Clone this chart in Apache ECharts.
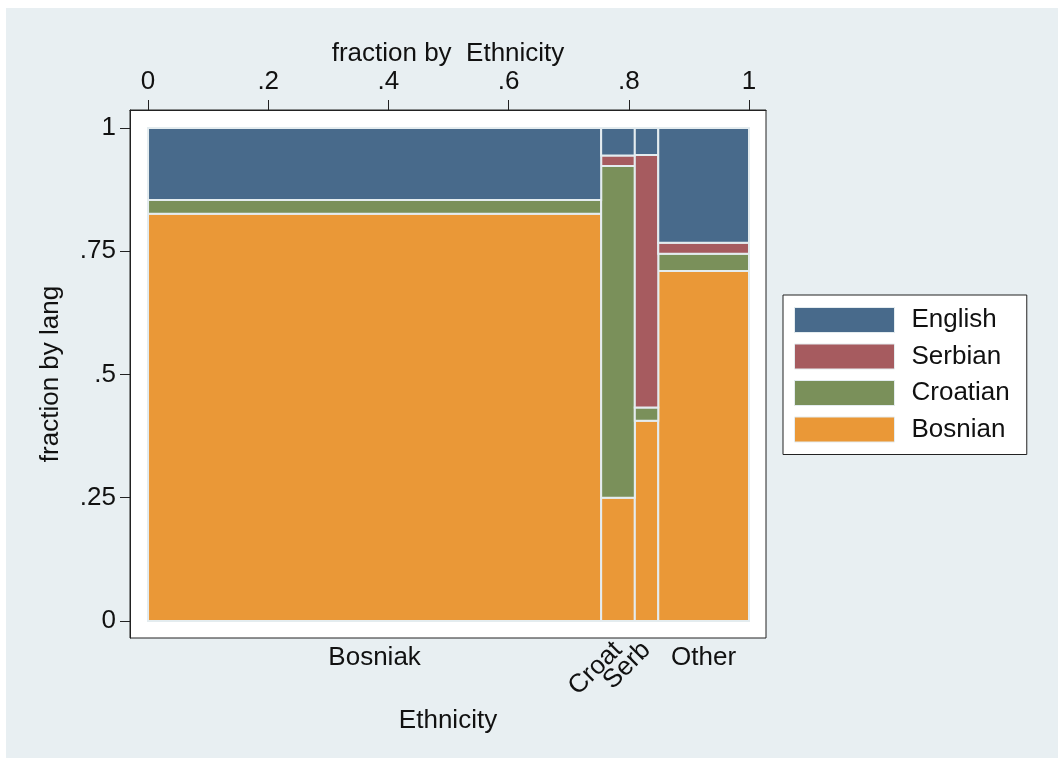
<!DOCTYPE html>
<html>
<head>
<meta charset="utf-8">
<script src="https://cdn.jsdelivr.net/npm/echarts@6/dist/echarts.min.js"></script>
<style>
html,body{margin:0;padding:0;background:#ffffff;}
#main{width:1058px;height:758px;}
</style>
</head>
<body>
<div id="main"></div>
<script>
// ---- data ----
var ethnicities = ['Bosniak', 'Croat', 'Serb', 'Other'];
var ethShare = [0.754, 0.056, 0.039, 0.151];          // fraction by Ethnicity (column widths)
var languages = ['Bosnian', 'Croatian', 'Serbian', 'English']; // stacked bottom -> top
var bosnian  = [0.826, 0.250, 0.406, 0.710];
var croatian = [0.028, 0.673, 0.027, 0.035];
var serbian  = [0.000, 0.021, 0.512, 0.022];
var english  = [0.146, 0.056, 0.055, 0.233];
var xTicks = [0, 0.2, 0.4, 0.6, 0.8, 1];
var xTickLabels = ['0', '.2', '.4', '.6', '.8', '1'];
var yTicks = [0, 0.25, 0.5, 0.75, 1];
var yTickLabels = ['0', '.25', '.5', '.75', '1'];

var langValues = [bosnian, croatian, serbian, english];
var colors = {Bosnian: '#ea9837', Croatian: '#7a905a', Serbian: '#a65b5f', English: '#486a8b'};

// column boundaries
var xStart = [], xEnd = [], xMid = [];
var acc = 0;
for (var i = 0; i < ethShare.length; i++) {
  xStart.push(acc); acc += ethShare[i]; xEnd.push(acc); xMid.push((xStart[i] + xEnd[i]) / 2);
}

var fontFam = '"Liberation Sans", Arial, Helvetica, sans-serif';
var FS = 26;

function makeSeries(li) {
  var data = [];
  for (var e = 0; e < ethnicities.length; e++) {
    var y0 = 0;
    for (var k = 0; k < li; k++) y0 += langValues[k][e];
    var y1 = y0 + langValues[li][e];
    data.push([xStart[e], xEnd[e], y0, y1, ethnicities[e]]);
  }
  return {
    type: 'custom',
    name: languages[li],
    xAxisIndex: 0, yAxisIndex: 0,
    itemStyle: {color: colors[languages[li]]},
    encode: {x: [0, 1], y: [2, 3]},
    renderItem: function (params, api) {
      var p0 = api.coord([api.value(0), api.value(2)]);
      var p1 = api.coord([api.value(1), api.value(3)]);
      return {
        type: 'rect',
        shape: {x: p0[0], y: p1[1], width: p1[0] - p0[0], height: p0[1] - p1[1]},
        style: {fill: colors[languages[li]], stroke: '#e4ecef', lineWidth: 2}
      };
    },
    data: data
  };
}

var series = [];
for (var l = 0; l < languages.length; l++) series.push(makeSeries(l));

var xMin = -0.0300, xMax = 1.0283, yMin = -0.0345, yMax = 1.0365;

// one bottom label axis per ethnicity (Croat and Serb rotated, so they may overlap)
function catAxis(e, rotate, extra) {
  var ax = {
    type: 'value', position: 'bottom', min: xMin, max: xMax,
    axisLine: {show: false, onZero: false},
    axisTick: {show: false},
    axisLabel: {
      customValues: [xMid[e]], rotate: rotate, fontSize: FS, color: '#111',
      margin: rotate ? 8 : 7, fontFamily: fontFam, hideOverlap: false,
      formatter: function () { return ethnicities[e]; }
    },
    splitLine: {show: false}
  };
  if (extra) for (var k in extra) ax[k] = extra[k];
  return ax;
}

var option = {
  animation: false,
  backgroundColor: 'transparent',
  textStyle: {fontFamily: fontFam},
  graphic: [{
    type: 'rect', left: 6, top: 8, z: -10,
    shape: {width: 1052, height: 750},
    style: {fill: '#e8eff2'}
  }],
  legend: {
    orient: 'vertical',
    left: 783, top: 295,
    data: ['English', 'Serbian', 'Croatian', 'Bosnian'],
    icon: 'rect',
    itemWidth: 100, itemHeight: 25, itemGap: 10.5,
    padding: [12, 17, 12, 11],
    backgroundColor: '#ffffff',
    borderColor: '#222222', borderWidth: 1,
    itemStyle: {borderColor: '#e4ecef', borderWidth: 1},
    textStyle: {fontSize: FS, color: '#111', fontFamily: fontFam, padding: [0, 0, 0, 12]}
  },
  grid: {
    left: 130, top: 110, right: 292, bottom: 120,
    show: true, backgroundColor: '#ffffff', borderColor: '#222222', borderWidth: 1
  },
  xAxis: [{
    type: 'value', position: 'top', min: xMin, max: xMax,
    name: 'fraction by  Ethnicity', nameLocation: 'middle', nameGap: 43, nameMoveOverlap: false,
    nameTextStyle: {fontSize: FS, color: '#111', fontFamily: fontFam},
    axisLine: {show: true, onZero: false, lineStyle: {color: '#222', width: 1}},
    axisTick: {show: true, length: 10, customValues: xTicks, lineStyle: {color: '#222'}},
    axisLabel: {
      customValues: xTicks, fontSize: FS, color: '#111', margin: 15, fontFamily: fontFam, hideOverlap: false,
      formatter: function (v) { var i = xTicks.indexOf(v); return i >= 0 ? xTickLabels[i] : ''; }
    },
    splitLine: {show: false}
  },
    catAxis(0, 0, {name: 'Ethnicity', nameLocation: 'middle', nameGap: 70,
      nameTextStyle: {fontSize: FS, color: '#111', fontFamily: fontFam}}),
    catAxis(1, 45),
    catAxis(2, 45),
    catAxis(3, 0)
  ],
  yAxis: [{
    type: 'value', min: yMin, max: yMax,
    name: 'fraction by lang', nameLocation: 'middle', nameGap: 66, nameRotate: 90,
    nameTextStyle: {fontSize: FS, color: '#111', fontFamily: fontFam},
    axisLine: {show: true, onZero: false, lineStyle: {color: '#222', width: 1}},
    axisTick: {show: true, length: 10, customValues: yTicks, lineStyle: {color: '#222'}},
    axisLabel: {
      customValues: yTicks, fontSize: FS, color: '#111', margin: 14, fontFamily: fontFam, hideOverlap: false,
      formatter: function (v) { var i = yTicks.indexOf(v); return i >= 0 ? yTickLabels[i] : ''; }
    },
    splitLine: {show: false}
  }],
  series: series
};

var chart = echarts.init(document.getElementById('main'), null, {renderer: 'canvas'});
chart.setOption(option);
</script>
</body>
</html>
